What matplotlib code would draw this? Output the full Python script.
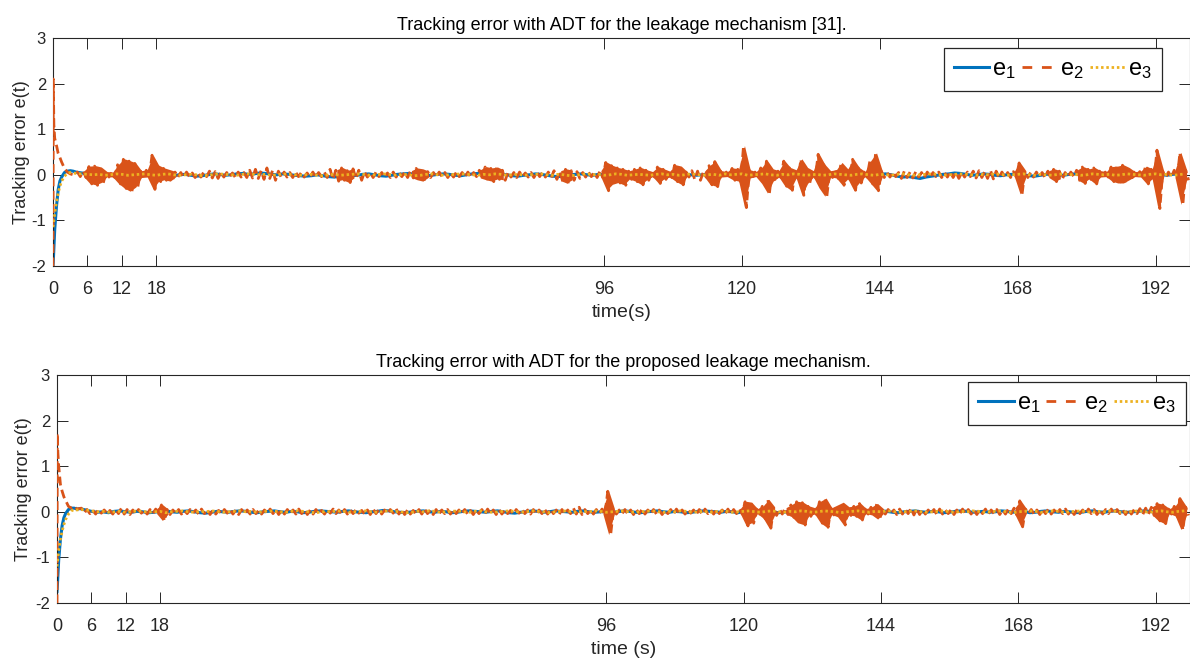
import numpy as np
import matplotlib
matplotlib.use("Agg")
import matplotlib.pyplot as plt
from matplotlib.lines import Line2D

# ---------------------------------------------------------------------------
# Data
# ---------------------------------------------------------------------------
titles = ["Tracking error with ADT for the leakage mechanism [31].",
          "Tracking error with ADT for the proposed leakage mechanism."]
xlabels = ["time(s)", "time (s)"]
ylabel = "Tracking error e(t)"
series_labels = [r"$e_1$", r"$e_2$", r"$e_3$"]
xticks = [0, 6, 12, 18, 96, 120, 144, 168, 192]
yticks = [-2, -1, 0, 1, 2, 3]

# initial transient (s)
t_head = [0.0, 0.05, 0.15, 0.3, 0.6, 0.9, 1.2, 1.5, 2.0, 2.5, 3.0, 3.5]
# one-second bins after the transient
t_bins = list(range(4, 198))

# ---- upper panel ----
top_e1_head = [-2.0, -1.9, -1.62, -1.2, -0.7, -0.33, -0.14, -0.05, 0.05, 0.08, 0.09, 0.08]
top_e2_head = [-2.3, 2.1, 1.1, 0.8, 0.65, 0.47, 0.38, 0.28, 0.14, 0.06, 0.02, 0.0]
top_e3_head = [-1.15, -1.1, -1.0, -0.85, -0.6, -0.4, -0.25, -0.14, -0.03, 0.03, 0.05, 0.04]

top_e1 = [0.06, 0.04, 0.02, 0.01, 0.00, -0.01, 0.01, 0.00, -0.02, 0.01,
          0.02, 0.00, -0.01, 0.01, 0.03, 0.01, -0.01, -0.02, 0.00, 0.01,
          -0.01, -0.03, -0.02, 0.00, 0.02, 0.01, -0.01, 0.00, 0.02, 0.03,
          0.01, 0.02, 0.04, 0.03, 0.01, 0.00, 0.02, 0.01, -0.01, -0.02,
          -0.03, -0.02, 0.00, -0.02, -0.04, -0.05, -0.03, -0.04, -0.02, -0.01,
          0.01, 0.02, 0.00, -0.02, -0.03, -0.01, 0.01, 0.02, 0.03, 0.01,
          0.00, -0.02, -0.01, 0.01, 0.02, 0.01, -0.01, -0.02, 0.00, 0.02,
          0.03, 0.02, 0.00, -0.01, 0.01, 0.00, -0.02, -0.03, -0.01, 0.00,
          0.02, 0.01, -0.01, -0.03, -0.04, -0.02, 0.00, 0.01, 0.02, 0.00,
          -0.01, 0.01, 0.00, -0.02, 0.01, 0.02, 0.00, -0.01, 0.01, 0.02,
          0.03, 0.01, 0.00, -0.02, -0.01, 0.01, 0.02, 0.00, -0.01, 0.00,
          0.01, 0.02, 0.00, -0.01, 0.01, -0.01, 0.02, 0.00, -0.02, 0.01,
          0.00, -0.01, 0.01, 0.02, 0.00, -0.02, 0.01, 0.00, -0.01, 0.02,
          0.01, -0.01, 0.00, 0.02, 0.01, -0.01, 0.00, 0.01, -0.02, 0.00,
          0.01, 0.02, 0.00, -0.03, -0.05, -0.04, -0.06, -0.08, -0.05, -0.03,
          -0.01, 0.01, 0.02, 0.04, 0.03, 0.01, -0.01, 0.00, 0.02, 0.01,
          -0.01, -0.02, 0.00, 0.01, 0.02, 0.00, -0.02, -0.03, -0.01, 0.01,
          0.02, 0.00, -0.01, 0.01, 0.02, 0.01, -0.01, 0.00, 0.02, 0.03,
          0.01, -0.01, 0.00, 0.02, 0.01, -0.01, 0.00, 0.01, 0.02, 0.00,
          -0.01, 0.01, 0.02, 0.00]

top_e2_hi = [0.06, 0.08, 0.18, 0.19, 0.16, 0.06, 0.05, 0.22, 0.34, 0.30,
             0.25, 0.08, 0.10, 0.43, 0.20, 0.14, 0.10, 0.06, 0.05, 0.06,
             0.04, 0.05, 0.06, 0.08, 0.07, 0.06, 0.05, 0.04, 0.06, 0.05,
             0.10, 0.12, 0.09, 0.15, 0.10, 0.08, 0.06, 0.05, 0.06, 0.05,
             0.04, 0.06, 0.05, 0.06, 0.12, 0.10, 0.15, 0.09, 0.13, 0.10,
             0.06, 0.05, 0.06, 0.05, 0.04, 0.06, 0.05, 0.06, 0.08, 0.14,
             0.12, 0.07, 0.05, 0.06, 0.05, 0.04, 0.06, 0.05, 0.06, 0.05,
             0.10, 0.17, 0.14, 0.16, 0.10, 0.06, 0.05, 0.06, 0.04, 0.05,
             0.06, 0.05, 0.06, 0.09, 0.08, 0.12, 0.09, 0.07, 0.05, 0.06,
             0.05, 0.08, 0.27, 0.20, 0.15, 0.12, 0.08, 0.12, 0.15, 0.10,
             0.06, 0.17, 0.12, 0.07, 0.21, 0.18, 0.06, 0.09, 0.08, 0.06,
             0.20, 0.29, 0.08, 0.06, 0.14, 0.12, 0.63, 0.10, 0.06, 0.15,
             0.30, 0.12, 0.08, 0.30, 0.15, 0.10, 0.34, 0.15, 0.08, 0.45,
             0.22, 0.08, 0.10, 0.26, 0.12, 0.34, 0.15, 0.06, 0.30, 0.47,
             0.08, 0.05, 0.06, 0.05, 0.08, 0.06, 0.07, 0.05, 0.06, 0.05,
             0.06, 0.05, 0.07, 0.06, 0.05, 0.06, 0.08, 0.09, 0.07, 0.10,
             0.08, 0.06, 0.05, 0.07, 0.26, 0.08, 0.05, 0.06, 0.05, 0.08,
             0.12, 0.08, 0.05, 0.06, 0.10, 0.17, 0.12, 0.15, 0.08, 0.06,
             0.17, 0.18, 0.21, 0.15, 0.06, 0.07, 0.18, 0.12, 0.54, 0.08,
             0.06, 0.10, 0.48, 0.10]

top_e2_lo = [-0.04, -0.06, -0.20, -0.23, -0.18, -0.05, -0.06, -0.20, -0.30, -0.37,
             -0.28, -0.07, -0.06, -0.32, -0.15, -0.12, -0.15, -0.05, -0.06, -0.04,
             -0.06, -0.05, -0.04, -0.07, -0.08, -0.05, -0.04, -0.06, -0.05, -0.06,
             -0.07, -0.08, -0.10, -0.08, -0.12, -0.06, -0.05, -0.06, -0.04, -0.05,
             -0.06, -0.05, -0.04, -0.06, -0.10, -0.14, -0.12, -0.17, -0.08, -0.12,
             -0.05, -0.06, -0.04, -0.05, -0.06, -0.05, -0.04, -0.06, -0.07, -0.12,
             -0.15, -0.06, -0.05, -0.04, -0.06, -0.05, -0.04, -0.05, -0.06, -0.04,
             -0.08, -0.12, -0.15, -0.10, -0.12, -0.05, -0.06, -0.04, -0.05, -0.06,
             -0.04, -0.05, -0.06, -0.10, -0.14, -0.19, -0.12, -0.08, -0.05, -0.04,
             -0.06, -0.06, -0.35, -0.22, -0.18, -0.23, -0.10, -0.15, -0.22, -0.12,
             -0.05, -0.19, -0.10, -0.06, -0.15, -0.22, -0.05, -0.10, -0.12, -0.05,
             -0.22, -0.26, -0.06, -0.05, -0.12, -0.15, -0.72, -0.08, -0.05, -0.20,
             -0.41, -0.15, -0.06, -0.25, -0.34, -0.08, -0.45, -0.20, -0.06, -0.30,
             -0.48, -0.06, -0.08, -0.23, -0.10, -0.34, -0.18, -0.05, -0.20, -0.35,
             -0.06, -0.05, -0.04, -0.08, -0.06, -0.07, -0.05, -0.06, -0.05, -0.04,
             -0.06, -0.05, -0.06, -0.08, -0.05, -0.04, -0.07, -0.06, -0.08, -0.09,
             -0.07, -0.05, -0.06, -0.05, -0.43, -0.06, -0.05, -0.04, -0.06, -0.07,
             -0.15, -0.10, -0.05, -0.04, -0.12, -0.19, -0.10, -0.20, -0.06, -0.05,
             -0.15, -0.19, -0.19, -0.12, -0.05, -0.06, -0.20, -0.10, -0.74, -0.06,
             -0.05, -0.08, -0.66, -0.12]

top_e3 = [0.03, 0.02, 0.01, 0.00, 0.01, -0.01, 0.00, 0.02, 0.01, -0.01,
          0.00, 0.01, 0.02, 0.00, -0.01, 0.01, 0.02, 0.00, -0.01, 0.00,
          0.01, 0.00, -0.02, -0.01, 0.01, 0.02, 0.01, 0.00, -0.01, 0.01,
          0.02, 0.01, 0.00, 0.01, -0.01, 0.00, 0.02, 0.01, 0.00, -0.01,
          0.00, 0.01, -0.01, -0.02, 0.00, 0.01, -0.01, 0.00, 0.01, 0.02,
          0.01, -0.01, 0.00, 0.01, 0.02, 0.00, -0.01, 0.01, 0.00, -0.02,
          -0.01, 0.01, 0.02, 0.00, -0.01, 0.00, 0.01, 0.02, 0.01, 0.00,
          -0.01, 0.01, 0.00, 0.02, 0.01, -0.01, 0.00, 0.01, -0.01, 0.00,
          0.01, 0.02, 0.00, -0.01, 0.01, 0.00, -0.02, -0.01, 0.01, 0.02,
          0.00, 0.01, -0.01, 0.00, 0.02, 0.01, -0.01, 0.00, 0.01, 0.00,
          -0.01, 0.01, 0.02, 0.00, 0.01, -0.01, 0.00, 0.02, 0.01, -0.01,
          0.00, 0.01, -0.01, 0.02, 0.00, 0.01, 0.02, -0.01, 0.00, 0.01,
          0.02, 0.00, -0.01, 0.01, 0.00, 0.02, 0.01, -0.01, 0.00, 0.01,
          -0.01, 0.00, 0.02, 0.01, 0.00, -0.01, 0.01, 0.02, 0.00, -0.01,
          0.01, 0.00, -0.01, 0.01, 0.02, 0.00, -0.01, 0.00, 0.01, 0.02,
          0.01, -0.01, 0.00, 0.01, 0.02, 0.01, 0.00, -0.01, 0.01, 0.00,
          0.02, 0.01, -0.01, 0.00, 0.01, 0.02, 0.00, -0.01, 0.01, 0.00,
          -0.01, 0.01, 0.02, 0.00, 0.01, -0.01, 0.00, 0.02, 0.01, 0.00,
          0.01, -0.01, 0.00, 0.02, 0.01, 0.00, -0.01, 0.01, 0.02, 0.00,
          0.01, -0.01, 0.00, 0.02]

# ---- lower panel ----
bot_e1_head = [-1.75, -1.65, -1.4, -1.05, -0.6, -0.3, -0.13, -0.04, 0.05, 0.08, 0.08, 0.06]
bot_e2_head = [-2.3, 1.72, 1.3, 1.0, 0.6, 0.45, 0.33, 0.25, 0.12, 0.08, 0.12, 0.06]
bot_e3_head = [-1.2, -1.15, -1.02, -0.85, -0.6, -0.42, -0.28, -0.17, -0.05, 0.02, 0.05, 0.04]

bot_e1 = [0.07, 0.04, 0.01, -0.01, 0.00, -0.02, 0.01, 0.02, 0.00, -0.01,
          0.01, 0.00, -0.02, -0.01, 0.01, 0.02, 0.00, -0.01, 0.01, 0.02,
          0.00, -0.02, -0.03, -0.01, 0.01, 0.00, -0.01, 0.01, 0.02, 0.01,
          -0.01, -0.02, 0.00, 0.01, 0.02, 0.00, -0.01, 0.01, 0.00, -0.02,
          -0.01, 0.01, 0.02, 0.01, 0.00, -0.01, 0.01, 0.02, 0.00, -0.01,
          -0.02, 0.00, 0.01, 0.03, 0.02, 0.00, -0.01, -0.02, 0.00, 0.01,
          0.02, 0.00, -0.01, 0.01, 0.00, -0.02, -0.01, 0.01, 0.02, 0.01,
          0.00, -0.01, 0.01, 0.02, 0.00, -0.02, -0.03, -0.01, 0.00, 0.02,
          0.01, -0.01, 0.00, 0.02, 0.01, 0.00, -0.01, 0.01, 0.02, 0.00,
          -0.01, 0.00, 0.01, -0.01, 0.00, 0.02, 0.01, -0.01, -0.02, 0.00,
          0.01, 0.02, 0.00, -0.01, 0.01, 0.00, -0.02, -0.01, 0.01, 0.02,
          0.01, 0.00, -0.01, 0.01, 0.00, -0.02, 0.01, 0.02, 0.00, -0.01,
          0.01, 0.00, -0.02, -0.01, 0.01, 0.02, 0.00, -0.01, 0.01, 0.00,
          -0.01, 0.01, 0.02, 0.00, -0.02, -0.01, 0.01, 0.00, -0.01, 0.01,
          0.02, 0.01, -0.01, -0.02, 0.00, 0.01, 0.02, 0.00, -0.01, 0.01,
          0.00, -0.02, -0.01, 0.01, 0.02, 0.01, -0.01, 0.00, 0.01, -0.01,
          0.00, 0.02, 0.01, -0.01, 0.00, 0.01, -0.02, -0.01, 0.01, 0.02,
          0.00, -0.01, 0.01, 0.00, -0.02, -0.01, 0.01, 0.02, 0.00, -0.01,
          0.01, 0.02, 0.00, -0.01, 0.00, 0.01, 0.02, 0.01, -0.01, 0.00,
          0.01, -0.01, 0.00, 0.01]

bot_e2_hi = [0.08, 0.05, 0.04, 0.05, 0.04, 0.03, 0.05, 0.08, 0.05, 0.04,
             0.05, 0.04, 0.05, 0.06, 0.15, 0.05, 0.04, 0.05, 0.03, 0.05,
             0.04, 0.06, 0.05, 0.04, 0.03, 0.05, 0.06, 0.04, 0.05, 0.04,
             0.05, 0.03, 0.04, 0.06, 0.05, 0.04, 0.05, 0.04, 0.06, 0.05,
             0.04, 0.05, 0.03, 0.05, 0.06, 0.04, 0.05, 0.04, 0.05, 0.03,
             0.04, 0.06, 0.05, 0.04, 0.05, 0.07, 0.05, 0.04, 0.03, 0.05,
             0.06, 0.04, 0.05, 0.04, 0.05, 0.06, 0.04, 0.05, 0.03, 0.04,
             0.05, 0.06, 0.04, 0.05, 0.04, 0.03, 0.05, 0.06, 0.04, 0.05,
             0.04, 0.05, 0.06, 0.04, 0.05, 0.04, 0.08, 0.10, 0.05, 0.04,
             0.05, 0.06, 0.45, 0.06, 0.04, 0.05, 0.04, 0.05, 0.06, 0.04,
             0.05, 0.04, 0.03, 0.05, 0.06, 0.04, 0.05, 0.04, 0.05, 0.06,
             0.04, 0.05, 0.04, 0.06, 0.05, 0.06, 0.22, 0.20, 0.06, 0.12,
             0.26, 0.10, 0.06, 0.08, 0.15, 0.22, 0.20, 0.12, 0.08, 0.22,
             0.29, 0.08, 0.14, 0.20, 0.10, 0.12, 0.18, 0.06, 0.10, 0.17,
             0.06, 0.05, 0.04, 0.06, 0.05, 0.08, 0.07, 0.05, 0.04, 0.05,
             0.06, 0.04, 0.05, 0.04, 0.06, 0.05, 0.04, 0.05, 0.06, 0.04,
             0.05, 0.04, 0.06, 0.08, 0.24, 0.06, 0.05, 0.04, 0.05, 0.06,
             0.04, 0.05, 0.06, 0.04, 0.05, 0.04, 0.06, 0.05, 0.04, 0.05,
             0.06, 0.05, 0.04, 0.06, 0.05, 0.07, 0.08, 0.10, 0.18, 0.15,
             0.06, 0.12, 0.29, 0.10]

bot_e2_lo = [-0.03, -0.04, -0.05, -0.03, -0.04, -0.05, -0.04, -0.05, -0.06, -0.04,
             -0.03, -0.05, -0.04, -0.05, -0.20, -0.06, -0.04, -0.05, -0.04, -0.03,
             -0.05, -0.04, -0.06, -0.05, -0.04, -0.03, -0.05, -0.06, -0.04, -0.05,
             -0.04, -0.05, -0.03, -0.04, -0.06, -0.05, -0.04, -0.05, -0.04, -0.06,
             -0.05, -0.04, -0.05, -0.03, -0.04, -0.06, -0.05, -0.04, -0.03, -0.05,
             -0.06, -0.04, -0.05, -0.04, -0.03, -0.05, -0.06, -0.05, -0.04, -0.05,
             -0.04, -0.06, -0.05, -0.04, -0.05, -0.04, -0.03, -0.05, -0.06, -0.04,
             -0.05, -0.04, -0.06, -0.05, -0.04, -0.05, -0.03, -0.04, -0.05, -0.06,
             -0.04, -0.05, -0.04, -0.06, -0.05, -0.04, -0.05, -0.06, -0.04, -0.05,
             -0.04, -0.06, -0.51, -0.05, -0.04, -0.05, -0.06, -0.04, -0.05, -0.04,
             -0.05, -0.06, -0.04, -0.05, -0.04, -0.05, -0.03, -0.05, -0.06, -0.04,
             -0.05, -0.04, -0.06, -0.05, -0.04, -0.05, -0.31, -0.25, -0.05, -0.15,
             -0.36, -0.08, -0.05, -0.06, -0.12, -0.25, -0.29, -0.10, -0.06, -0.25,
             -0.34, -0.07, -0.12, -0.29, -0.08, -0.10, -0.18, -0.05, -0.08, -0.17,
             -0.05, -0.04, -0.06, -0.05, -0.04, -0.07, -0.06, -0.05, -0.04, -0.06,
             -0.05, -0.04, -0.06, -0.05, -0.04, -0.05, -0.06, -0.04, -0.05, -0.04,
             -0.06, -0.05, -0.04, -0.07, -0.33, -0.04, -0.05, -0.06, -0.04, -0.05,
             -0.05, -0.04, -0.05, -0.06, -0.04, -0.05, -0.04, -0.06, -0.05, -0.04,
             -0.05, -0.04, -0.06, -0.05, -0.04, -0.06, -0.05, -0.08, -0.20, -0.26,
             -0.05, -0.10, -0.40, -0.08]

bot_e3 = [0.05, 0.04, 0.02, 0.00, 0.01, -0.01, 0.00, 0.01, -0.01, 0.00,
          0.02, 0.01, -0.01, 0.00, 0.01, -0.02, 0.00, 0.01, 0.02, 0.00,
          -0.01, 0.01, 0.00, 0.02, 0.01, -0.01, 0.00, 0.01, 0.02, 0.00,
          0.01, -0.01, 0.00, 0.02, 0.01, 0.00, -0.01, 0.01, 0.02, 0.01,
          0.00, -0.02, -0.01, 0.01, 0.00, 0.02, 0.01, -0.01, 0.00, 0.01,
          0.02, 0.00, -0.01, 0.01, 0.02, 0.01, 0.00, -0.02, -0.01, 0.01,
          0.00, 0.02, 0.01, -0.01, 0.00, 0.01, 0.02, 0.00, -0.01, 0.01,
          0.02, 0.00, -0.01, 0.00, 0.01, 0.02, 0.01, -0.01, 0.00, 0.02,
          0.01, 0.00, -0.02, 0.00, 0.01, 0.02, 0.00, -0.01, 0.01, 0.00,
          0.02, 0.01, -0.01, 0.00, 0.01, 0.02, 0.00, -0.01, 0.00, 0.01,
          0.02, 0.00, -0.01, 0.01, 0.00, 0.02, 0.01, -0.01, 0.00, 0.01,
          -0.01, 0.00, 0.02, 0.01, -0.01, 0.00, 0.01, 0.02, 0.00, -0.01,
          0.01, 0.02, 0.00, -0.01, 0.01, 0.00, 0.02, 0.01, -0.01, 0.00,
          0.02, 0.01, 0.00, -0.02, 0.00, 0.01, 0.02, 0.00, -0.01, 0.01,
          0.00, 0.02, 0.01, -0.01, 0.00, 0.01, 0.02, 0.00, -0.01, 0.00,
          0.01, 0.02, 0.00, -0.01, 0.01, 0.00, 0.02, 0.01, -0.01, 0.00,
          0.01, 0.02, 0.00, -0.02, 0.00, 0.01, 0.02, 0.01, -0.01, 0.00,
          0.02, 0.01, -0.01, 0.00, 0.01, 0.02, 0.00, -0.01, 0.01, 0.00,
          0.02, 0.01, -0.01, 0.00, 0.01, 0.02, 0.00, -0.01, 0.01, 0.02,
          0.00, -0.01, 0.01, 0.02]

# ---------------------------------------------------------------------------
# Style
# ---------------------------------------------------------------------------
C_E1, C_E2, C_E3 = "#0072BD", "#D95319", "#EDB120"
AX_COLOR = "#262626"
REGULAR = ["Liberation Sans", "DejaVu Sans"]

plt.rcParams["font.family"] = REGULAR
plt.rcParams["mathtext.fontset"] = "custom"
plt.rcParams["mathtext.rm"] = "Liberation Sans"
plt.rcParams["mathtext.it"] = "Liberation Sans"
plt.rcParams["mathtext.default"] = "regular"

W, H = 1190, 663
fig = plt.figure(figsize=(W / 100, H / 100), dpi=100)

# axes boxes in pixels: (left, top, right, bottom)
boxes = [(53, 38, 1190, 266), (57, 375, 1190, 603)]
legend_anchor = [(0.975, 0.956), (0.9965, 0.969)]
ylabel_x = [-0.020, -0.022]

E1_STYLE = dict(color=C_E1, lw=2.2, ls="-")
E2_STYLE = dict(color=C_E2, lw=2.0, ls=(0, (3.2, 1.6)))
E3_STYLE = dict(color=C_E3, lw=2.0, ls=(0, (0.9, 1.0)))
# legend keys drawn with the plain dash pattern of each series
legend_keys = [Line2D([], [], **E1_STYLE),
               Line2D([], [], color=C_E2, lw=2.0, ls=(0, (3.5, 3.5))),
               Line2D([], [], **E3_STYLE)]

# bins whose swing exceeds this are shaded as a dense burst
BURST_SWING = 0.25


def build_trace(head_t, head_v, bins, values):
    t = np.concatenate([np.asarray(head_t, float), np.asarray(bins, float)])
    v = np.concatenate([np.asarray(head_v, float), np.asarray(values, float)])
    return t, v


def build_oscillation(head_t, head_v, bins, hi, lo):
    # each one-second bin: its maximum followed by its minimum
    b = np.asarray(bins, float)
    t_osc = np.column_stack([b + 0.25, b + 0.75]).ravel()
    v_osc = np.column_stack([np.asarray(hi, float), np.asarray(lo, float)]).ravel()
    t = np.concatenate([np.asarray(head_t, float), t_osc])
    v = np.concatenate([np.asarray(head_v, float), v_osc])
    return t, v


panels = [
    (top_e1_head, top_e1, top_e2_head, top_e2_hi, top_e2_lo, top_e3_head, top_e3),
    (bot_e1_head, bot_e1, bot_e2_head, bot_e2_hi, bot_e2_lo, bot_e3_head, bot_e3),
]

for i, (e1h, e1b, e2h, e2hi, e2lo, e3h, e3b) in enumerate(panels):
    l, t, r, b = boxes[i]
    ax = fig.add_axes([l / W, (H - b) / H, (r - l) / W, (b - t) / H])

    x1, y1 = build_trace(t_head, e1h, t_bins, e1b)
    x2, y2 = build_oscillation(t_head, e2h, t_bins, e2hi, e2lo)
    x3, y3 = build_trace(t_head, e3h, t_bins, e3b)

    ax.plot(x1, y1, **E1_STYLE, zorder=2)

    # dense bursts of e2: shade the swing envelope of the busy bins
    hi = np.asarray(e2hi, float)
    lo = np.asarray(e2lo, float)
    busy = (hi - lo) >= BURST_SWING
    busy_wide = busy | np.r_[busy[1:], False] | np.r_[False, busy[:-1]]
    centres = np.asarray(t_bins, float) + 0.5
    ax.fill_between(centres, lo, hi, where=busy_wide, color=C_E2, lw=0,
                    zorder=2.5)

    ax.plot(x2, y2, **E2_STYLE, zorder=3)
    ax.plot(x3, y3, **E3_STYLE, zorder=4)

    ax.set_xlim(0, 198)
    ax.set_ylim(-2, 3)
    ax.set_xticks(xticks)
    ax.set_yticks(yticks)
    ax.set_xticklabels([str(v) for v in xticks], fontsize=13)
    ax.set_yticklabels([str(v) for v in yticks], fontsize=12)

    ax.tick_params(axis="both", direction="in", length=8, width=0.7,
                   color=AX_COLOR, labelcolor=AX_COLOR, top=True, right=True)
    ax.tick_params(axis="x", pad=11)
    ax.tick_params(axis="y", pad=5)
    for sp in ax.spines.values():
        sp.set_color(AX_COLOR)
        sp.set_linewidth(0.8)

    ax.set_title(titles[i], fontsize=13, color="black", pad=6)
    ax.set_xlabel(xlabels[i], fontsize=14, color=AX_COLOR, labelpad=4)
    ax.set_ylabel(ylabel, fontsize=13, color=AX_COLOR)
    ax.yaxis.set_label_coords(ylabel_x[i], 0.5)

    leg = ax.legend(legend_keys, series_labels, loc="upper right",
                    bbox_to_anchor=legend_anchor[i], ncol=3,
                    fontsize=17, frameon=True, fancybox=False, shadow=False,
                    handlelength=1.5, handletextpad=0.12, columnspacing=0.25,
                    borderpad=0.42, borderaxespad=0.0)
    leg.get_frame().set_edgecolor(AX_COLOR)
    leg.get_frame().set_linewidth(0.9)
    leg.get_frame().set_alpha(1.0)

fig.savefig("out.png", dpi=100)
